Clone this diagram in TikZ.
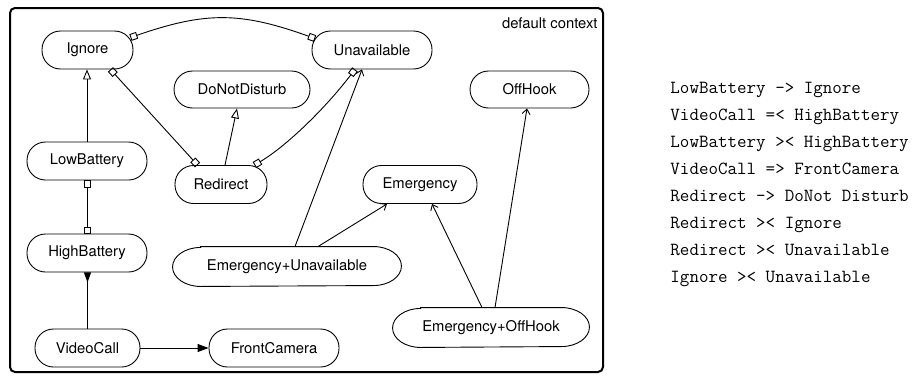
\documentclass[tikz,border=0pt]{standalone}
\usepackage{fontspec}
\newfontfamily\hvfont{TeX Gyre Heros}
\usetikzlibrary{arrows.meta}
\newcommand\ellboxoutline[3]{% name, x radius, y radius
  \draw ([xshift=#2]#1.north west) -- ([xshift=-#2]#1.north east)
    arc[start angle=90,end angle=-90,x radius=#2,y radius=#3]
    -- ([xshift=#2]#1.south west)
    arc[start angle=270,end angle=90,x radius=#2,y radius=#3] -- cycle;}
\begin{document}
\begin{tikzpicture}[x=1pt,y=1pt,line width=0.9pt,
  stadium/.style={draw, rectangle, rounded corners=18.5pt, minimum height=38pt,
    inner sep=0pt, font=\hvfont\fontsize{14.8}{17}\selectfont},
  ellbox/.style={rectangle, minimum height=39pt, inner sep=0pt,
    font=\hvfont\fontsize{14.8}{17}\selectfont},
  code/.style={anchor=base west, inner sep=0pt,
    font=\ttfamily\fontsize{18.5}{21}\selectfont},
  inherit/.style={-{Triangle[open,length=10pt,width=8pt]}},
  mutex/.style={{Square[open,length=7pt,width=7pt]}-{Square[open,length=7pt,width=7pt]}},
  implies/.style={-{Triangle[length=11pt,width=8pt]}},
  impliedby/.style={-{Triangle[reversed,length=10pt,width=7pt]}},
  refines/.style={-{Straight Barb[length=5pt,width=8pt]}}
]
\useasboundingbox (0,0) rectangle (915,-375);
% frame
\draw[line width=2pt, rounded corners=5pt] (10,-8) rectangle (603,-372);
\node[anchor=east, inner sep=0pt, font=\hvfont\fontsize{14.8}{17}\selectfont] (ctx) at (598,-23) {default context};
% nodes
\node[stadium, minimum width=91pt]  (ign)  at (87.5,-50)  {Ignore};
\node[stadium, minimum width=120pt] (unav) at (372,-50)   {Unavailable};
\node[stadium, minimum width=136pt, minimum height=37pt] (dnd) at (242,-89.5) {DoNotDisturb};
\node[stadium, minimum width=119pt, minimum height=37pt] (off) at (529.5,-89.5) {OffHook};
\node[stadium, minimum width=120pt] (low)  at (87,-161)   {LowBattery};
\node[stadium, minimum width=92pt]  (red)  at (221,-184.5) {Redirect};
\node[stadium, minimum width=114pt] (emg)  at (420,-184.5) {Emergency};
\node[stadium, minimum width=120pt] (high) at (87,-253)   {HighBattery};
\node[ellbox, minimum width=228pt]  (eu)   at (287,-266.5) {Emergency+Unavailable};
\node[ellbox, minimum width=196pt]  (eo)   at (491,-327.5) {Emergency+OffHook};
\node[stadium, minimum width=105pt] (vc)   at (87.5,-348) {VideoCall};
\node[stadium, minimum width=130pt] (fc)   at (274,-348)  {FrontCamera};
\ellboxoutline{eu}{28pt}{19.5pt}
\ellboxoutline{eo}{28pt}{19.5pt}
% connectors
\draw[inherit] (low.north) -- (low.north |- ign.south);
\draw[inherit] ([xshift=4pt]red.north) -- ([xshift=-5pt]dnd.south);
\draw[mutex] ([xshift=-23pt]ign.south east) -- ([xshift=23pt]red.north west);
\draw[mutex] ([xshift=-13pt]red.north east) .. controls +(29,17) and +(-33,-43) .. ([xshift=-17pt]unav.south);
\draw[mutex] ([xshift=-3pt,yshift=-7pt]ign.north east) .. controls +(75,26) and +(-75,27) .. ([xshift=3.5pt,yshift=-8pt]unav.north west);
\draw[mutex] (low.south) -- (low.south |- high.north);
\draw[impliedby] (vc.north) -- (vc.north |- high.south);
\draw[implies] (vc.east) -- (fc.west);
\draw[refines] ([xshift=8pt]eu.north) -- ([xshift=-10pt]unav.south);
\draw[refines] ([xshift=31pt]eu.north) -- ([xshift=-33pt]emg.south);
\draw[refines] ([xshift=-9pt]eo.north) -- ([xshift=12pt]emg.south);
\draw[refines] ([xshift=4pt]eo.north) -- ([xshift=-2.5pt]off.south);
% constraint list
\node[code] (t1) at (670,-93)  {LowBattery -> Ignore};
\node[code] (t2) at (670,-120) {VideoCall =< HighBattery};
\node[code] (t3) at (670,-147) {LowBattery >< HighBattery};
\node[code] (t4) at (670,-174) {VideoCall => FrontCamera};
\node[code] (t5) at (670,-201) {Redirect -> DoNot Disturb};
\node[code] (t6) at (670,-228) {Redirect >< Ignore};
\node[code] (t7) at (670,-255) {Redirect >< Unavailable};
\node[code] (t8) at (670,-282) {Ignore >< Unavailable};
\end{tikzpicture}
\end{document}
